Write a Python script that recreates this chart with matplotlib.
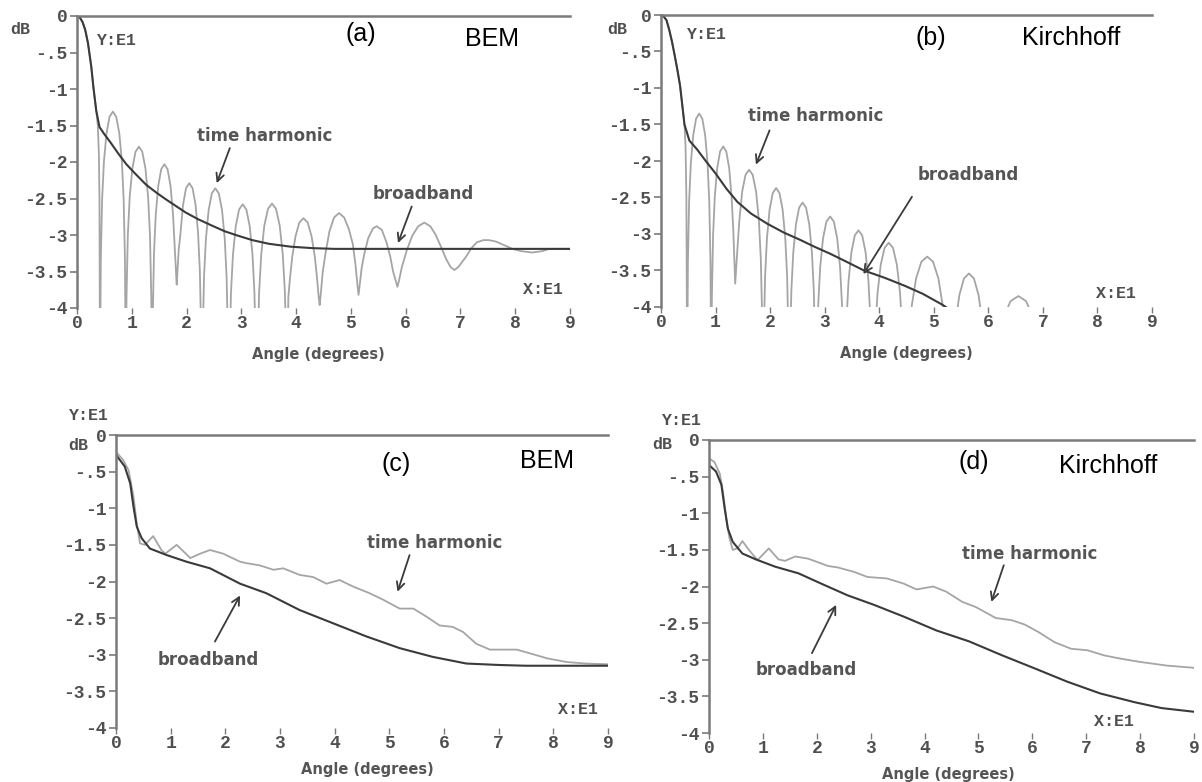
import numpy as np
import matplotlib.pyplot as plt

# ---------- data (x in units of 10 deg, y in units of 10 dB) ----------
# (a) BEM, time harmonic (null values below -4 are clipped by the axes)
a_th_x = [0, 0.05, 0.1, 0.15, 0.2, 0.26, 0.3, 0.35, 0.38, 0.40, 0.41, 0.42,
          0.434, 0.458, 0.491, 0.538, 0.594, 0.655, 0.716, 0.773, 0.820, 0.852, 0.876, 0.89,
          0.904, 0.928, 0.962, 1.01, 1.068, 1.13, 1.192, 1.25, 1.298, 1.332, 1.356, 1.37,
          1.384, 1.406, 1.438, 1.483, 1.537, 1.595, 1.654, 1.708, 1.753, 1.784, 1.807, 1.82,
          1.834, 1.857, 1.889, 1.935, 1.99, 2.05, 2.11, 2.165, 2.211, 2.243, 2.266, 2.28,
          2.295, 2.319, 2.354, 2.403, 2.461, 2.525, 2.589, 2.648, 2.697, 2.731, 2.755, 2.77,
          2.785, 2.811, 2.847, 2.898, 2.959, 3.025, 3.091, 3.153, 3.204, 3.239, 3.265, 3.28,
          3.297, 3.325, 3.364, 3.42, 3.487, 3.56, 3.633, 3.70, 3.756, 3.795, 3.823, 3.84,
          3.858, 3.887, 3.929, 3.988, 4.058, 4.135, 4.212, 4.283, 4.342, 4.383, 4.412, 4.43,
          4.451, 4.487, 4.537, 4.608, 4.693, 4.785, 4.877, 4.963, 5.034, 5.083, 5.119, 5.14,
          5.161, 5.197, 5.247, 5.318, 5.403, 5.47, 5.565, 5.65, 5.72, 5.77, 5.83, 5.85,
          5.88, 5.93, 6.02, 6.12, 6.23, 6.34, 6.45, 6.55, 6.65, 6.74, 6.82, 6.89, 6.96,
          7.1, 7.2, 7.3, 7.42, 7.52, 7.65, 7.8, 7.95, 8.1, 8.31, 8.5, 8.62, 9.0]
a_th_y = [0, -0.02, -0.08, -0.19, -0.37, -0.69, -0.98, -1.29, -1.5, -1.9, -2.5, -5.0,
          -3.36, -2.52, -2.00, -1.61, -1.38, -1.31, -1.38, -1.61, -2.00, -2.52, -3.36, -5.0,
          -3.84, -3.00, -2.48, -2.09, -1.86, -1.79, -1.86, -2.09, -2.48, -3.00, -3.84, -5.0,
          -4.08, -3.24, -2.72, -2.33, -2.10, -2.03, -2.10, -2.33, -2.72, -3.18, -3.50, -3.68,
          -3.50, -3.20, -2.98, -2.59, -2.36, -2.29, -2.36, -2.59, -2.98, -3.50, -4.34, -5.0,
          -4.41, -3.57, -3.05, -2.66, -2.43, -2.36, -2.43, -2.66, -3.05, -3.57, -4.41, -5.0,
          -4.63, -3.79, -3.27, -2.88, -2.65, -2.58, -2.65, -2.88, -3.27, -3.79, -4.63, -5.0,
          -4.62, -3.78, -3.26, -2.87, -2.64, -2.57, -2.64, -2.87, -3.26, -3.78, -4.62, -5.0,
          -3.85, -3.60, -3.30, -3.02, -2.83, -2.77, -2.83, -3.02, -3.30, -3.60, -3.85, -3.96,
          -3.80, -3.50, -3.25, -2.95, -2.76, -2.70, -2.76, -2.92, -3.12, -3.40, -3.68, -3.82,
          -3.68, -3.45, -3.25, -3.04, -2.91, -2.88, -2.93, -3.10, -3.30, -3.50, -3.66, -3.71,
          -3.62, -3.44, -3.21, -3.01, -2.88, -2.83, -2.88, -3.00, -3.17, -3.33, -3.44, -3.48, -3.44,
          -3.30, -3.18, -3.10, -3.07, -3.07, -3.09, -3.14, -3.19, -3.22, -3.24, -3.22, -3.19, -3.19]
a_bb_x = [0, 0.05, 0.1, 0.15, 0.2, 0.26, 0.3, 0.35, 0.41, 0.5, 0.6, 0.75, 0.9,
          1.05, 1.26, 1.45, 1.62, 1.8, 1.98, 2.2, 2.46, 2.7, 2.94, 3.2, 3.5,
          3.9, 4.3, 4.7, 5.2, 6.0, 7.0, 8.0, 9.0]
a_bb_y = [0, -0.02, -0.08, -0.19, -0.37, -0.69, -0.98, -1.29, -1.52, -1.62, -1.72, -1.88, -2.03,
          -2.15, -2.31, -2.42, -2.51, -2.60, -2.69, -2.78, -2.87, -2.95, -3.01, -3.07, -3.12,
          -3.16, -3.18, -3.19, -3.19, -3.19, -3.19, -3.19, -3.19]

# (b) Kirchhoff, time harmonic
b_th_x = [0, 0.05, 0.1, 0.15, 0.2, 0.25, 0.3, 0.35, 0.4, 0.43, 0.45, 0.465, 0.48,
          0.493, 0.515, 0.546, 0.59, 0.643, 0.70, 0.757, 0.81, 0.854, 0.885, 0.907, 0.92,
          0.933, 0.955, 0.986, 1.03, 1.083, 1.14, 1.197, 1.25, 1.294, 1.325, 1.347, 1.36,
          1.375, 1.401, 1.437, 1.488, 1.549, 1.615, 1.681, 1.743, 1.794, 1.829, 1.855, 1.87,
          1.884, 1.908, 1.942, 1.99, 2.048, 2.11, 2.172, 2.23, 2.278, 2.312, 2.336, 2.35,
          2.365, 2.389, 2.424, 2.473, 2.531, 2.595, 2.659, 2.718, 2.767, 2.801, 2.825, 2.84,
          2.856, 2.882, 2.918, 2.97, 3.032, 3.10, 3.168, 3.23, 3.282, 3.318, 3.344, 3.36,
          3.376, 3.402, 3.438, 3.49, 3.552, 3.62, 3.688, 3.75, 3.802, 3.838, 3.864, 3.88,
          3.898, 3.927, 3.969, 4.028, 4.098, 4.175, 4.252, 4.323, 4.382, 4.423, 4.452, 4.47,
          4.495, 4.536, 4.593, 4.675, 4.773, 4.88, 4.987, 5.085, 5.167, 5.224, 5.265, 5.29,
          5.311, 5.347, 5.397, 5.468, 5.553, 5.645, 5.737, 5.822, 5.893, 5.943, 5.979, 6.0,
          6.033, 6.088, 6.165, 6.275, 6.407, 6.55, 6.693, 6.825, 6.935, 7.012, 7.067, 7.1]
b_th_y = [0, -0.02, -0.07, -0.2, -0.36, -0.55, -0.75, -0.97, -1.3, -1.5, -1.8, -2.5, -5.0,
          -3.40, -2.56, -2.04, -1.65, -1.42, -1.35, -1.42, -1.65, -2.04, -2.56, -3.40, -5.0,
          -3.85, -3.01, -2.49, -2.10, -1.87, -1.80, -1.87, -2.10, -2.49, -2.95, -3.40, -3.68,
          -3.50, -3.20, -2.81, -2.42, -2.19, -2.12, -2.19, -2.42, -2.81, -3.33, -4.17, -5.0,
          -4.42, -3.58, -3.06, -2.67, -2.44, -2.37, -2.44, -2.67, -3.06, -3.58, -4.42, -5.0,
          -4.62, -3.78, -3.26, -2.87, -2.64, -2.57, -2.64, -2.87, -3.26, -3.78, -4.62, -5.0,
          -4.81, -3.97, -3.45, -3.06, -2.83, -2.76, -2.83, -3.06, -3.45, -3.97, -4.81, -5.2,
          -5.00, -4.16, -3.64, -3.25, -3.02, -2.95, -3.02, -3.25, -3.64, -4.16, -5.00, -5.2,
          -5.17, -4.33, -3.81, -3.42, -3.19, -3.12, -3.19, -3.42, -3.81, -4.33, -5.17, -5.3,
          -5.36, -4.52, -4.00, -3.61, -3.38, -3.31, -3.38, -3.61, -4.00, -4.52, -5.36, -5.5,
          -5.59, -4.75, -4.23, -3.84, -3.61, -3.54, -3.61, -3.84, -4.23, -4.75, -5.59, -5.7,
          -5.90, -5.06, -4.54, -4.15, -3.92, -3.85, -3.92, -4.15, -4.54, -5.06, -5.90, -6.0]
b_bb_x = [0, 0.05, 0.1, 0.15, 0.2, 0.25, 0.3, 0.35, 0.4, 0.43, 0.52, 0.66, 0.8,
          1.0, 1.2, 1.4, 1.65, 1.95, 2.25, 2.55, 2.8, 3.1, 3.4, 3.72,
          4.1, 4.47, 4.8, 5.16, 5.22]
b_bb_y = [0, -0.02, -0.07, -0.2, -0.36, -0.55, -0.75, -0.97, -1.3, -1.5, -1.72, -1.84, -1.98,
          -2.17, -2.38, -2.56, -2.72, -2.86, -2.98, -3.08, -3.17, -3.27, -3.38, -3.50,
          -3.60, -3.71, -3.82, -3.97, -4.0]

# (c) BEM, broadband incidence
c_th_x = [0, 0.13, 0.23, 0.32, 0.38, 0.44, 0.53, 0.68, 0.83, 0.9, 1.11, 1.36, 1.54,
          1.72, 1.96, 2.27, 2.39, 2.63, 2.88, 3.06, 3.36, 3.61, 3.85, 4.09, 4.34,
          4.64, 4.89, 5.19, 5.44, 5.68, 5.92, 6.16, 6.35, 6.59, 6.84, 7.33, 7.57,
          7.89, 8.25, 8.6, 9.0]
c_th_y = [-0.23, -0.34, -0.48, -0.84, -1.21, -1.48, -1.50, -1.38, -1.57, -1.62, -1.50, -1.68, -1.62,
          -1.57, -1.62, -1.73, -1.75, -1.78, -1.84, -1.82, -1.91, -1.94, -2.03, -1.98, -2.07,
          -2.16, -2.25, -2.37, -2.37, -2.48, -2.60, -2.62, -2.69, -2.85, -2.93, -2.93, -2.98,
          -3.05, -3.10, -3.12, -3.13]
c_bb_x = [0, 0.16, 0.26, 0.32, 0.38, 0.47, 0.62, 0.93, 1.29, 1.72, 2.27, 2.75, 3.36,
          3.97, 4.58, 5.19, 5.80, 6.41, 7.02, 7.5, 8.0, 8.5, 9.0]
c_bb_y = [-0.27, -0.43, -0.66, -0.98, -1.25, -1.41, -1.55, -1.64, -1.73, -1.82, -2.03, -2.16, -2.39,
          -2.57, -2.75, -2.91, -3.03, -3.12, -3.14, -3.15, -3.15, -3.15, -3.15]

# (d) Kirchhoff, broadband incidence
d_th_x = [0, 0.10, 0.2, 0.26, 0.32, 0.38, 0.44, 0.53, 0.62, 0.74, 0.9, 1.11, 1.29,
          1.41, 1.6, 1.84, 2.21, 2.39, 2.69, 2.94, 3.30, 3.61, 3.85, 4.16, 4.40,
          4.70, 4.95, 5.32, 5.62, 5.86, 6.11, 6.41, 6.72, 7.02, 7.33, 7.6, 8.0, 8.5, 9.0]
d_th_y = [-0.25, -0.30, -0.46, -0.71, -1.07, -1.34, -1.50, -1.48, -1.38, -1.50, -1.64, -1.48, -1.63,
          -1.65, -1.59, -1.62, -1.72, -1.74, -1.80, -1.87, -1.89, -1.96, -2.04, -2.00, -2.07,
          -2.21, -2.28, -2.43, -2.46, -2.52, -2.62, -2.76, -2.85, -2.87, -2.94, -2.98, -3.03, -3.08, -3.11]
d_bb_x = [0, 0.13, 0.23, 0.29, 0.35, 0.44, 0.62, 0.87, 1.23, 1.66, 2.08, 2.57, 3.06,
          3.61, 4.22, 4.83, 5.44, 6.05, 6.65, 7.26, 7.9, 8.4, 9.0]
d_bb_y = [-0.34, -0.43, -0.61, -0.93, -1.21, -1.39, -1.55, -1.63, -1.73, -1.82, -1.96, -2.12, -2.25,
          -2.41, -2.60, -2.75, -2.94, -3.12, -3.30, -3.46, -3.58, -3.66, -3.71]

x_ticks = list(range(10))
y_ticks = [0, -0.5, -1, -1.5, -2, -2.5, -3, -3.5, -4]
y_tick_labels = ["0", "-.5", "-1", "-1.5", "-2", "-2.5", "-3", "-3.5", "-4"]

# ---------- style ----------
AXC = "#7a7a7a"      # axis lines
TXT = "#4f4f4f"      # tick text
TH_C = "#a5a5a5"     # time harmonic curve
BB_C = "#3a3a3a"     # broadband curve
MONO = "Liberation Mono"
SANS = "DejaVu Sans"
W, H = 1202, 782


def px_axes(fig, x0, x1, y0, y1):
    """axes from a pixel box (left, right, top, bottom)"""
    return fig.add_axes([x0 / W, 1 - y1 / H, (x1 - x0) / W, (y1 - y0) / H])


def setup(ax):
    ax.set_xlim(0, 9)
    ax.set_ylim(-4, 0)
    for s in ("right", "bottom"):
        ax.spines[s].set_visible(False)
    for s in ("left", "top"):
        ax.spines[s].set_color(AXC)
        ax.spines[s].set_linewidth(1.8)
    ax.set_xticks(x_ticks)
    ax.set_xticklabels([str(t) for t in x_ticks])
    ax.set_yticks(y_ticks)
    ax.set_yticklabels(y_tick_labels)
    ax.tick_params(axis="x", direction="out", length=4, width=1.0, color=AXC, pad=1,
                   labelsize=13, labelcolor=TXT)
    ax.tick_params(axis="y", direction="out", length=5, width=1.2, color=AXC, pad=2,
                   labelsize=13, labelcolor=TXT)
    for lbl in ax.get_xticklabels() + ax.get_yticklabels():
        lbl.set_family(MONO)
        lbl.set_fontweight("bold")
    ax.patch.set_alpha(0)


def curves(ax, thx, thy, bbx, bby):
    ax.plot(thx, thy, color=TH_C, lw=1.3, solid_joinstyle="round")
    ax.plot(bbx, bby, color=BB_C, lw=1.5)


def note(ax, label, txt_xy, tail, head):
    ax.text(*txt_xy, label, family=SANS, fontweight="bold", fontsize=12, color="#555555",
            ha="center", va="center")
    ax.annotate("", xy=head, xytext=tail,
                arrowprops=dict(arrowstyle="->", color="#3a3a3a", lw=1.3,
                                mutation_scale=14, shrinkA=0, shrinkB=0))


def mono(ax, x, y, s, **kw):
    ax.text(x, y, s, family=MONO, fontweight="bold", fontsize=12, color=TXT, **kw)


def tag(ax, x, y, s):
    ax.text(x, y, s, family="Liberation Sans", fontsize=18, color="black",
            ha="center", va="center")


def xlabel(ax, x, y):
    ax.text(x, y, "Angle (degrees)", family=SANS, fontweight="bold", fontsize=10.5,
            color="#555555", ha="center", va="center")


fig = plt.figure(figsize=(W / 100, H / 100), dpi=100)

axa = px_axes(fig, 77, 570, 16, 308)
axb = px_axes(fig, 661, 1152, 15, 307)
axc = px_axes(fig, 116, 608, 435, 728)
axd = px_axes(fig, 709, 1194, 440, 733)

for ax in (axa, axb, axc, axd):
    setup(ax)

curves(axa, a_th_x, a_th_y, a_bb_x, a_bb_y)
curves(axb, b_th_x, b_th_y, b_bb_x, b_bb_y)
curves(axc, c_th_x, c_th_y, c_bb_x, c_bb_y)
curves(axd, d_th_x, d_th_y, d_bb_x, d_bb_y)

# panel (a)
mono(axa, -1.04, -0.19, "dB", ha="center", va="center")
mono(axa, 0.35, -0.33, "Y:E1", ha="left", va="center")
mono(axa, 8.51, -3.74, "X:E1", ha="center", va="center")
tag(axa, 5.19, -0.24, "(a)")
tag(axa, 7.57, -0.31, "BEM")
note(axa, "time harmonic", (3.43, -1.65), (2.79, -1.81), (2.55, -2.29))
note(axa, "broadband", (6.32, -2.44), (6.11, -2.61), (5.86, -3.11))
xlabel(axa, 4.4, -4.64)

# panel (b)
mono(axb, -0.8, -0.2, "dB", ha="center", va="center")
mono(axb, 0.45, -0.27, "Y:E1", ha="left", va="center")
mono(axb, 8.34, -3.82, "X:E1", ha="center", va="center")
tag(axb, 4.95, -0.32, "(b)")
tag(axb, 7.51, -0.32, "Kirchhoff")
note(axb, "time harmonic", (2.83, -1.39), (1.99, -1.58), (1.74, -2.05))
note(axb, "broadband", (5.64, -2.19), (4.6, -2.49), (3.71, -3.55))
xlabel(axb, 4.5, -4.64)

# panel (c)
mono(axc, -0.52, 0.27, "Y:E1", ha="center", va="center")
mono(axc, -0.69, -0.14, "dB", ha="center", va="center")
mono(axc, 8.46, -3.75, "X:E1", ha="center", va="center")
tag(axc, 5.13, -0.39, "(c)")
tag(axc, 7.89, -0.36, "BEM")
note(axc, "time harmonic", (5.83, -1.48), (5.37, -1.64), (5.15, -2.14))
note(axc, "broadband", (1.69, -3.07), (1.81, -2.82), (2.27, -2.19))
xlabel(axc, 4.6, -4.57)

# panel (d)
mono(axd, -0.52, 0.26, "Y:E1", ha="center", va="center")
mono(axd, -0.87, -0.06, "dB", ha="center", va="center")
mono(axd, 7.52, -3.84, "X:E1", ha="center", va="center")
tag(axd, 4.92, -0.30, "(d)")
tag(axd, 7.41, -0.36, "Kirchhoff")
note(axd, "time harmonic", (5.95, -1.55), (5.47, -1.71), (5.24, -2.21))
note(axd, "broadband", (1.81, -3.14), (1.91, -2.91), (2.36, -2.25))
xlabel(axd, 4.44, -4.57)

fig.savefig("out.png", dpi=100)
